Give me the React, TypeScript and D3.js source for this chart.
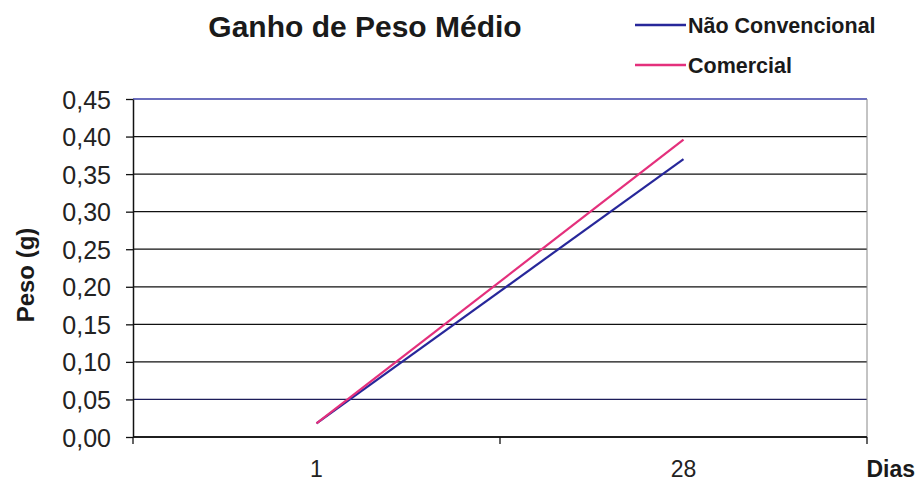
import React, { useEffect, useRef } from "react";
import * as d3 from "d3";

const categories = ["1", "28"];
const naoConvencional = [0.018, 0.37];
const comercial = [0.018, 0.396];
const yTicks = [0, 0.05, 0.1, 0.15, 0.2, 0.25, 0.3, 0.35, 0.4, 0.45];
const seriesNames = ["Não Convencional", "Comercial"];
const seriesColors = ["#27279a", "#e4307c"];

export default function App() {
  const ref = useRef<SVGSVGElement | null>(null);

  useEffect(() => {
    const svg = d3.select(ref.current);
    svg.selectAll("*").remove();
    const W = 917, H = 482;
    const left = 133, right = 867, top = 99, bottom = 437;
    const font = "'Liberation Sans', Arial, sans-serif";

    svg.append("rect").attr("width", W).attr("height", H).attr("fill", "#fff");

    const x = d3.scaleBand<string>().domain(categories).range([left, right]).paddingInner(0).paddingOuter(0);
    const y = d3.scaleLinear().domain([0, 0.45]).range([bottom, top]);

    // gridlines
    svg.append("g").selectAll("line").data(yTicks).enter().append("line")
      .attr("x1", left).attr("x2", right)
      .attr("y1", (d) => y(d)).attr("y2", (d) => y(d))
      .attr("stroke", (d) => (d === 0.45 ? "#3b3fa8" : d === 0.05 ? "#1c1c5a" : "#111"))
      .attr("stroke-width", 1.3);

    // right border
    svg.append("line").attr("x1", right).attr("x2", right).attr("y1", top).attr("y2", bottom)
      .attr("stroke", "#888").attr("stroke-width", 1);

    // y axis
    const yAxis = svg.append("g").attr("transform", `translate(${left},0)`)
      .call(d3.axisLeft(y).tickValues(yTicks).tickSize(7).tickSizeOuter(0)
        .tickFormat((d) => d3.format(".2f")(d as number).replace(".", ",")));
    yAxis.select(".domain").attr("stroke", "#111").attr("stroke-width", 1.5);
    yAxis.selectAll(".tick line").attr("stroke", "#111").attr("stroke-width", 1.3);
    yAxis.selectAll(".tick text").attr("font-family", font).attr("font-size", 25)
      .attr("fill", "#222").attr("x", -22).attr("dy", "0.36em");

    // x axis
    const xAxis = svg.append("g").attr("transform", `translate(0,${bottom})`);
    xAxis.append("line").attr("x1", left).attr("x2", right).attr("y1", 0).attr("y2", 0)
      .attr("stroke", "#111").attr("stroke-width", 1.5);
    const xTickPos = [left, ...categories.slice(1).map((c) => x(c) as number), right];
    xAxis.selectAll("line.t").data(xTickPos).enter().append("line").attr("class", "t")
      .attr("x1", (d) => d).attr("x2", (d) => d).attr("y1", 0).attr("y2", 7)
      .attr("stroke", "#111").attr("stroke-width", 1.3);
    xAxis.selectAll("text").data(categories).enter().append("text")
      .attr("x", (d) => (x(d) as number) + x.bandwidth() / 2)
      .attr("y", 40).attr("text-anchor", "middle")
      .attr("font-family", font).attr("font-size", 23).attr("fill", "#222").text((d) => d);

    // lines
    const series = [naoConvencional, comercial];
    const line = d3.line<number>()
      .x((_, i) => (x(categories[i]) as number) + x.bandwidth() / 2)
      .y((d) => y(d));
    series.forEach((s, i) => {
      svg.append("path").attr("d", line(s) as string).attr("fill", "none")
        .attr("stroke", seriesColors[i]).attr("stroke-width", 2.2);
    });

    // title
    svg.append("text").attr("x", 365).attr("y", 37).attr("text-anchor", "middle")
      .attr("font-family", font).attr("font-size", 30).attr("font-weight", "bold")
      .attr("fill", "#1a1a1a").text("Ganho de Peso Médio");

    // legend
    const legY = [25, 65];
    seriesNames.forEach((n, i) => {
      svg.append("line").attr("x1", 635).attr("x2", 686).attr("y1", legY[i]).attr("y2", legY[i])
        .attr("stroke", seriesColors[i]).attr("stroke-width", 2.5);
      svg.append("text").attr("x", 688).attr("y", legY[i] + 8)
        .attr("font-family", font).attr("font-size", 21.5).attr("font-weight", "bold")
        .attr("fill", "#1a1a1a").text(n);
    });

    // axis titles
    svg.append("text").attr("transform", `translate(34,275) rotate(-90)`)
      .attr("text-anchor", "middle").attr("font-family", font).attr("font-size", 24)
      .attr("font-weight", "bold").attr("fill", "#1a1a1a").text("Peso (g)");
    svg.append("text").attr("x", 915).attr("y", 477).attr("text-anchor", "end")
      .attr("font-family", font).attr("font-size", 23).attr("font-weight", "bold")
      .attr("fill", "#1a1a1a").text("Dias");
  }, []);

  return (
    <svg ref={ref} width={917} height={482}
      style={{ position: "absolute", left: 0, top: 0, display: "block" }} />
  );
}
